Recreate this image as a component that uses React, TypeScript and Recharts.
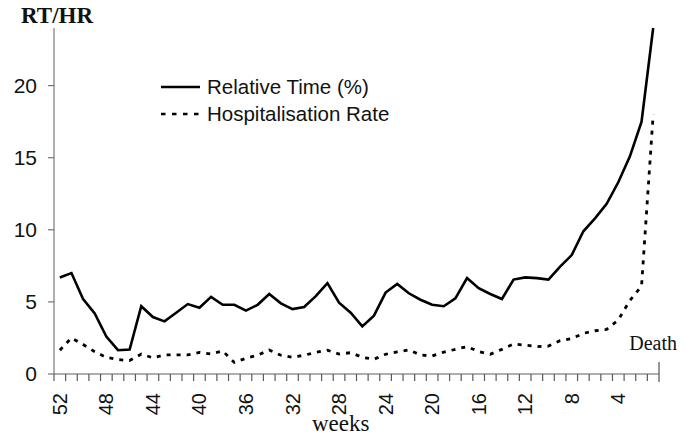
import React from 'react';
import { LineChart, Line, XAxis, YAxis, Legend } from 'recharts';

// ---- data ----
const weeks = [52, 51, 50, 49, 48, 47, 46, 45, 44, 43, 42, 41, 40, 39, 38, 37, 36, 35, 34, 33, 32, 31, 30, 29, 28, 27, 26, 25, 24, 23, 22, 21, 20, 19, 18, 17, 16, 15, 14, 13, 12, 11, 10, 9, 8, 7, 6, 5, 4, 3, 2, 1];
const relativeTime = [6.7, 7.0, 5.2, 4.2, 2.6, 1.65, 1.7, 4.7, 3.95, 3.65, 4.25, 4.85, 4.6, 5.35, 4.8, 4.8, 4.4, 4.8, 5.55, 4.9, 4.5, 4.65, 5.4, 6.3, 4.95, 4.25, 3.3, 4.05, 5.65, 6.25, 5.6, 5.15, 4.8, 4.7, 5.25, 6.65, 5.95, 5.55, 5.2, 6.55, 6.7, 6.65, 6.55, 7.45, 8.25, 9.9, 10.8, 11.8, 13.3, 15.1, 17.5, 24.0];
const hospitalisationRate = [1.65, 2.5, 2.05, 1.55, 1.15, 1.0, 0.93, 1.38, 1.12, 1.32, 1.32, 1.32, 1.5, 1.39, 1.6, 0.8, 1.09, 1.3, 1.67, 1.3, 1.16, 1.3, 1.5, 1.65, 1.38, 1.48, 1.16, 1.02, 1.37, 1.53, 1.67, 1.32, 1.25, 1.52, 1.71, 1.9, 1.55, 1.37, 1.71, 2.08, 2.0, 1.9, 1.94, 2.31, 2.45, 2.82, 3.0, 3.1, 3.75, 5.1, 6.1, 18.0];
const weekTickLabels = [52, 48, 44, 40, 36, 32, 28, 24, 20, 16, 12, 8, 4];
const yTicks = [0, 5, 10, 15, 20];
const endLabel = 'Death';
const yTitle = 'RT/HR';
const xTitle = 'weeks';
const rtName = 'Relative Time (%)';
const hrName = 'Hospitalisation Rate';

const data = weeks.map((w, i) => ({ week: w, rt: relativeTime[i], hr: hospitalisationRate[i] }));
const lastWeek = weeks[weeks.length - 1];

const AXIS = '#5e5e5e';
const TICK = '#5a5a5a';
const INK = '#111';
const SANS = '"Liberation Sans", Arial, sans-serif';
const SERIF = '"Liberation Serif", "Times New Roman", serif';

// One tick per week: a mark on the boundary before the week (between categories),
// the label on every 4th week, and the "Death" marker after the last week.
function WeekTick(props: any) {
  const { x, y, payload, width } = props;
  const v = Number(payload.value);
  const half = Number(width) / (2 * weeks.length);
  const ly = y + 19;
  return (
    <g>
      <line x1={x - half} x2={x - half} y1={y} y2={y + 7} stroke={TICK} strokeWidth={1.2} />
      {weekTickLabels.includes(v) && (
        <text x={x} y={ly} transform={`rotate(-90 ${x} ${ly})`} textAnchor="end" dominantBaseline="central" fill={INK} fontSize={20} fontFamily={SANS}>
          {v}
        </text>
      )}
      {v === lastWeek && (
        <g>
          <line x1={x + half} x2={x + half} y1={y - 12} y2={y + 8} stroke={AXIS} strokeWidth={1.3} />
          <text x={x} y={y - 24} textAnchor="middle" fill={INK} fontSize={20} fontFamily={SERIF}>
            {endLabel}
          </text>
        </g>
      )}
    </g>
  );
}

function LegendBox() {
  const items = [
    { name: rtName, dash: undefined as string | undefined },
    { name: hrName, dash: '4.5 6.5' },
  ];
  return (
    <svg width={240} height={60}>
      {items.map((it, i) => (
        <g key={it.name}>
          <line x1={3} x2={42} y1={15 + i * 27} y2={15 + i * 27} stroke="#000" strokeWidth={2.6} strokeDasharray={it.dash} />
          <text x={49} y={22 + i * 27} fill={INK} fontSize={20.5} fontFamily={SANS}>{it.name}</text>
        </g>
      ))}
    </svg>
  );
}

export default function App() {
  return (
    <div style={{ position: 'relative', width: 685, height: 443, background: '#fff' }}>
      <style>{`body{margin:0;background:#fff}`}</style>
      <LineChart width={685} height={443} data={data} margin={{ top: 28, right: 26, left: 0, bottom: 0 }}>
        <XAxis
          dataKey="week"
          type="number"
          domain={[0.5, 52.5]}
          reversed
          ticks={weeks}
          interval={0}
          tickLine={false}
          tickSize={0}
          tickMargin={0}
          axisLine={{ stroke: AXIS, strokeWidth: 1 }}
          tick={(p: any) => <WeekTick {...p} />}
          height={69}
        />
        <YAxis
          domain={[0, 24]}
          ticks={yTicks}
          width={54}
          axisLine={{ stroke: AXIS, strokeWidth: 1 }}
          tickLine={{ stroke: TICK, strokeWidth: 1 }}
          tickSize={6}
          tickMargin={11}
          tick={{ fill: INK, fontSize: 21, fontFamily: SANS }}
        />
        <Legend
          layout="vertical"
          align="center"
          verticalAlign="middle"
          content={() => <LegendBox />}
          wrapperStyle={{ position: 'absolute', left: 158, top: 72, width: 240, height: 60 }}
        />
        <Line dataKey="rt" name={rtName} type="linear" stroke="#000" strokeWidth={2.6} dot={false} isAnimationActive={false} />
        <Line dataKey="hr" name={hrName} type="linear" stroke="#000" strokeWidth={2.8} strokeDasharray="4 6" dot={false} isAnimationActive={false} />
      </LineChart>
      <svg width={685} height={443} style={{ position: 'absolute', left: 0, top: 0, pointerEvents: 'none' }}>
        <text x={21} y={23} fontFamily={SERIF} fontWeight="bold" fontSize={23} fill={INK}>{yTitle}</text>
        <text x={312} y={431} fontFamily={SERIF} fontSize={23} fill={INK}>{xTitle}</text>
      </svg>
    </div>
  );
}
